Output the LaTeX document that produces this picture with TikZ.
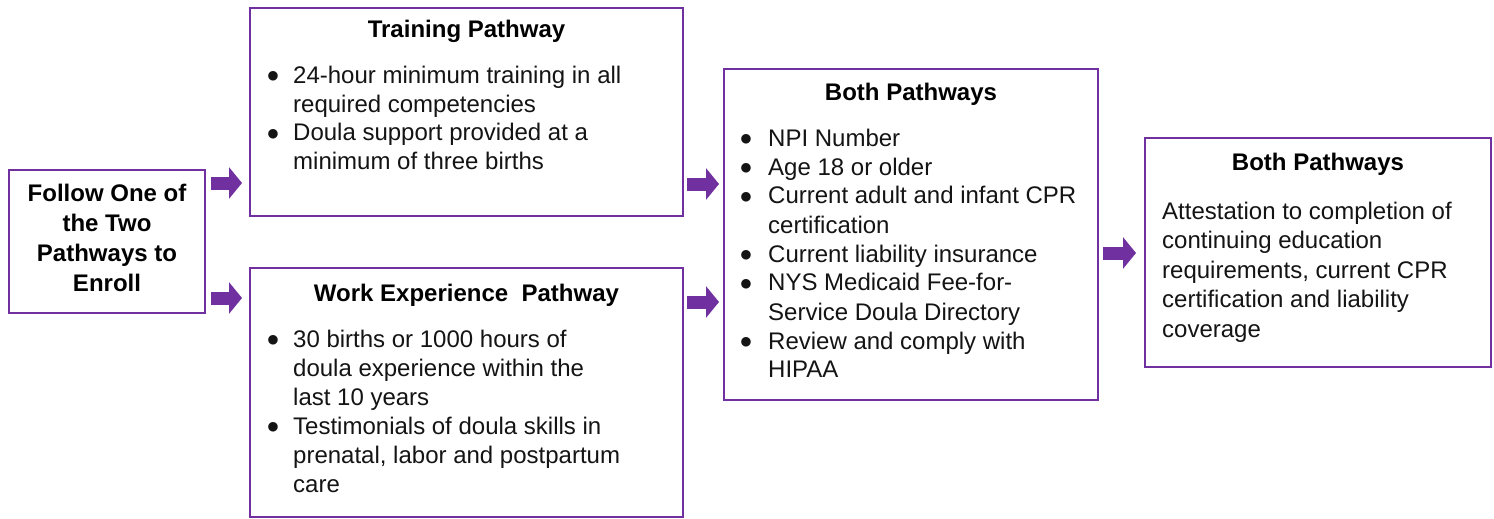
\documentclass[tikz,border=0pt]{standalone}
\usepackage{fontspec}
\setmainfont{Liberation Sans}
\newfontfamily\symf{DejaVu Sans}
\usetikzlibrary{arrows.meta}
\definecolor{pp}{HTML}{7030A0}
\definecolor{txt}{HTML}{141414}
\newcommand{\bul}{\raisebox{3.5pt}{\symf\fontsize{12.5}{12.5}\selectfont ●}}
\tikzset{
  box/.style={draw=pp, line width=2pt, fill=white, inner sep=0pt, rectangle},
  ttl/.style={font=\fontsize{24}{29}\selectfont\bfseries, text=black, inner sep=0pt, anchor=base},
  body/.style={font=\fontsize{24}{29}\selectfont, text=txt, inner sep=0pt, anchor=base west},
  lead/.style={font=\fontsize{24}{30}\selectfont\bfseries, text=black, inner sep=0pt, anchor=base},
  blockarrow/.style={draw=pp, line width=13pt, -{Triangle[length=13pt,width=31pt]}},
}
\begin{document}
\begin{tikzpicture}[x=1pt,y=-1pt]
\useasboundingbox[fill=white] (0,0) rectangle (1494,519);
% boxes
\node[box, minimum width=196pt, minimum height=143pt] (a) at (107,241.5) {};
\node[box, minimum width=433pt, minimum height=208pt] (b) at (466.5,112) {};
\node[box, minimum width=433pt, minimum height=249pt] (c) at (466.5,392.5) {};
\node[box, minimum width=374pt, minimum height=331pt] (d) at (911,234.5) {};
\node[box, minimum width=346pt, minimum height=229pt] (e) at (1318,252.5) {};
% texts
\node[lead] (at) at (107,201.7) {\begin{tabular}[t]{@{}c@{}}Follow One of\\the Two\\Pathways to\\Enroll\end{tabular}};
\node[ttl] (bt) at (466.5,38) {Training Pathway};
\node[body] (bx) at (267.5,83) {\begin{tabular}[t]{@{}p{25.5pt}@{}l@{}}
\bul & 24-hour minimum training in all\\
     & required competencies\\
\bul & Doula support provided at a\\
     & minimum of three births\end{tabular}};
\node[ttl] (ct) at (466.5,301) {Work Experience\ \ Pathway};
\node[body] (cx) at (267.5,347) {\begin{tabular}[t]{@{}p{25.5pt}@{}l@{}}
\bul & 30 births or 1000 hours of\\
     & doula experience within the\\
     & last 10 years\\
\bul & Testimonials of doula skills in\\
     & prenatal, labor and postpartum\\
     & care\end{tabular}};
\node[ttl] (dt) at (911,100) {Both Pathways};
\node[body] (dx) at (740.5,146) {\begin{tabular}[t]{@{}p{27.5pt}@{}l@{}}
\bul & NPI Number\\
\bul & Age 18 or older\\
\bul & Current adult and infant CPR\\
     & certification\\
\bul & Current liability insurance\\
\bul & NYS Medicaid Fee-for-\\
     & Service Doula Directory\\
\bul & Review and comply with\\
     & HIPAA\end{tabular}};
\node[ttl] (et) at (1318,170) {Both Pathways};
\node[body, font=\fontsize{24}{29.5}\selectfont] (ex) at (1162,219) {\begin{tabular}[t]{@{}l@{}}
Attestation to completion of\\
continuing education\\
requirements, current CPR\\
certification and liability\\
coverage\end{tabular}};
% arrows
\draw[blockarrow] ([xshift=5pt]a.east |- 0,183) -- ([xshift=-7pt]b.west |- 0,183);
\draw[blockarrow] ([xshift=5pt]a.east |- 0,298) -- ([xshift=-7pt]c.west |- 0,298);
\draw[blockarrow] ([xshift=3pt]b.east |- 0,184) -- ([xshift=-4pt]d.west |- 0,184);
\draw[blockarrow] ([xshift=3pt]c.east |- 0,302) -- ([xshift=-4pt]d.west |- 0,302);
\draw[blockarrow] ([xshift=4pt]d.east |- 0,253) -- ([xshift=-8pt]e.west |- 0,253);
\end{tikzpicture}
\end{document}
